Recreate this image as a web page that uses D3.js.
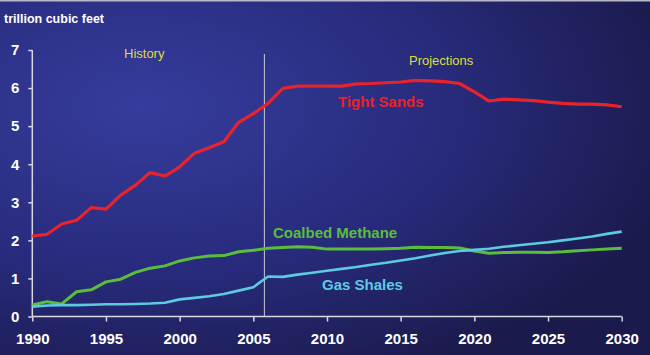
<!DOCTYPE html>
<html><head><meta charset="utf-8">
<script src="https://cdn.jsdelivr.net/npm/d3@7"></script>
<style>body{margin:0;background:#1e1d55}svg{display:block}</style>
</head><body>
<svg id="c" width="650" height="355"></svg>
<script>
const years = d3.range(1990, 2031);
const tightSands = [2.11,2.16,2.43,2.53,2.86,2.82,3.19,3.45,3.78,3.69,3.93,4.29,4.43,4.59,5.1,5.33,5.6,5.99,6.05,6.05,6.05,6.05,6.11,6.12,6.14,6.16,6.2,6.19,6.17,6.12,5.9,5.66,5.71,5.69,5.67,5.63,5.6,5.58,5.58,5.56,5.51];
const coalbedMethane = [0.3,0.39,0.33,0.65,0.7,0.91,0.98,1.16,1.27,1.33,1.46,1.54,1.59,1.6,1.7,1.74,1.79,1.81,1.83,1.82,1.77,1.77,1.77,1.77,1.78,1.79,1.82,1.81,1.81,1.8,1.72,1.66,1.68,1.69,1.69,1.68,1.7,1.73,1.75,1.77,1.79];
const gasShales = [0.26,0.29,0.3,0.3,0.31,0.32,0.32,0.33,0.34,0.36,0.45,0.49,0.53,0.59,0.68,0.77,1.05,1.04,1.1,1.15,1.2,1.25,1.3,1.36,1.41,1.47,1.53,1.6,1.67,1.72,1.75,1.78,1.83,1.87,1.91,1.95,2.0,2.05,2.1,2.17,2.23];
const yTicks = [0,1,2,3,4,5,6,7];
const xTicks = [1990,1995,2000,2005,2010,2015,2020,2025,2030];
const divider = 2005.75;

const svg = d3.select("#c");
const defs = svg.append("defs");
const g1 = defs.append("radialGradient").attr("id","bg").attr("cx","0.22").attr("cy","0.3").attr("r","0.85");
g1.append("stop").attr("offset","0").attr("stop-color","#353c9c");
g1.append("stop").attr("offset","0.55").attr("stop-color","#282b7c");
g1.append("stop").attr("offset","1").attr("stop-color","#1b1a4c");
svg.append("rect").attr("width",650).attr("height",355).attr("fill","url(#bg)");
svg.append("rect").attr("width",650).attr("height",1.5).attr("fill","#b8b8c8");

const x = d3.scaleLinear().domain([1990,2030]).range([32.3,621.7]);
const y = d3.scaleLinear().domain([0,7]).range([316.5,50]);

const xAxis = svg.append("g").attr("transform","translate(0,316.5)")
  .call(d3.axisBottom(x).tickValues(xTicks).tickFormat(d3.format("d")).tickSize(5).tickPadding(12));
const yAxis = svg.append("g").attr("transform","translate(32.3,0)")
  .call(d3.axisLeft(y).tickValues(yTicks).tickFormat(d3.format("d")).tickSize(4).tickPadding(9));
[xAxis,yAxis].forEach(a=>{
  a.select(".domain").attr("stroke","#d8d8e0").attr("stroke-width",1.5);
  a.selectAll(".tick line").attr("stroke","#d8d8e0").attr("stroke-width",1.5);
  a.selectAll("text").attr("fill","#ffffff").attr("font-family","Liberation Sans, Arial, sans-serif")
    .attr("font-weight","bold").attr("font-size",15);
});
xAxis.select(".domain").attr("d","M32.3,0H621.7");
yAxis.select(".domain").attr("d","M0,316.5V50");

svg.append("line").attr("x1",x(divider)).attr("x2",x(divider)).attr("y1",54).attr("y2",316)
  .attr("stroke","#c8c8d8").attr("stroke-width",1);

const line = d3.line().x((d,i)=>x(years[i])).y(d=>y(d));
const series = [[tightSands,"#e8232b",3.2],[coalbedMethane,"#5bbd3c",3],[gasShales,"#5ccbe2",2.6]];
series.forEach(([data,col,w])=>{
  svg.append("path").datum(data).attr("d",line).attr("fill","none").attr("stroke",col)
    .attr("stroke-width",w).attr("stroke-linejoin","round");
});

const font = "Liberation Sans, Arial, sans-serif";
svg.append("text").attr("x",4).attr("y",23).text("trillion cubic feet")
  .attr("fill","#fff").attr("font-family",font).attr("font-weight","bold").attr("font-size",12.5);
svg.append("text").attr("x",124).attr("y",58).text("History")
  .attr("fill","#dede3c").attr("font-family",font).attr("font-size",13);
svg.append("text").attr("x",409).attr("y",65).text("Projections")
  .attr("fill","#dede3c").attr("font-family",font).attr("font-size",13);
svg.append("text").attr("x",338).attr("y",107).text("Tight Sands")
  .attr("fill","#e8232b").attr("font-family",font).attr("font-weight","bold").attr("font-size",15);
svg.append("text").attr("x",273).attr("y",238).text("Coalbed Methane")
  .attr("fill","#5bbd3c").attr("font-family",font).attr("font-weight","bold").attr("font-size",15);
svg.append("text").attr("x",322).attr("y",290).text("Gas Shales")
  .attr("fill","#5ccbe2").attr("font-family",font).attr("font-weight","bold").attr("font-size",15);
</script>
</body></html>
